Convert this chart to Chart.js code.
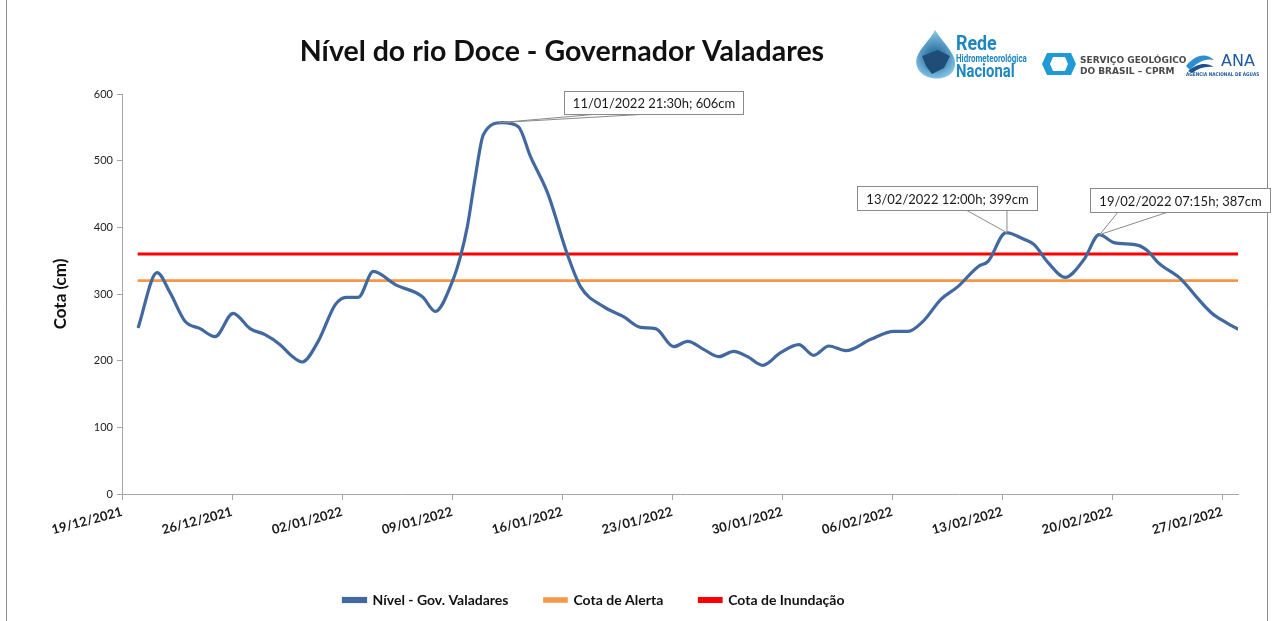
<!DOCTYPE html>
<html>
<head>
<meta charset="utf-8">
<script src="https://cdn.jsdelivr.net/npm/chart.js@4.4.1/dist/chart.umd.min.js"></script>
<style>
html,body{margin:0;padding:0;background:#fff;}
#wrap{position:relative;width:1273px;height:621px;}
canvas{display:block;}
</style>
</head>
<body>
<div id="wrap"><canvas id="c" width="1273" height="621"></canvas></div>
<script>
// ---- data ----
const tickDays = [0, 7, 14, 21, 28, 35, 42, 49, 56, 63, 70]; // days since 19/12/2021
const tickLabels = ["19/12/2021","26/12/2021","02/01/2022","09/01/2022","16/01/2022","23/01/2022","30/01/2022","06/02/2022","13/02/2022","20/02/2022","27/02/2022"];
const yTicks = [0, 100, 200, 300, 400, 500, 600];

const levelDays = [1.02,2.23,3.06,4.01,4.97,5.92,7.07,8.15,9.1,10.06,10.8,11.46,12.48,13.57,14.27,15.03,15.99,17.39,19.11,19.94,21.02,21.53,21.97,22.48,22.99,24.2,25.22,25.99,27.07,28.34,29.17,30.64,31.91,32.99,33.95,35.1,35.99,37.0,37.96,38.92,39.8,40.76,41.9,43.06,44.01,44.97,46.05,47.64,49.11,50.0,50.96,52.1,53.18,54.46,55.1,56.24,57.39,58.03,58.92,60.0,61.21,62.17,63.12,64.65,65.29,65.92,67.39,68.34,69.3,70.25,71.02];
const levels = [249,332,302,259,248,236,271,248,239,224,207,198,229,284,295,295,334,314,296,274,319,356,401,476,539,557,551,506,452,359,311,281,266,250,248,221,229,217,206,214,206,193,212,224,208,222,215,232,244,244,259,292,311,341,349,392,382,374,347,325,352,389,377,373,364,347,322,296,272,257,247];

const thresholdDays = [1, 71];
const alertLevel = 320;
const floodLevel = 360;

const seriesNames = ["Nível - Gov. Valadares", "Cota de Alerta", "Cota de Inundação"];
const seriesColors = ["#41699f", "#f79646", "#ff0000"];

const annotTexts = ["11/01/2022 21:30h; 606cm", "13/02/2022 12:00h; 399cm", "19/02/2022 07:15h; 387cm"];
const annotDays = [24.0, 56.3, 62.2];
const annotLevels = [557, 392, 389];

const titleText = "Nível do rio Doce - Governador Valadares";
const yTitle = "Cota (cm)";

// ---- layout (pixels) ----
const annotBoxes = [
  {dx: 65, dy: -32, w: 179, h: 23, b1: 94, b2: 141},
  {dx: -150, dy: -47, w: 180, h: 24, b1: -40, b2: 0},
  {dx: -10, dy: -47, w: 180, h: 24, b1: 18, b2: 67}
];
const legendShift = -25;

const FONT = "Lato, 'Open Sans', sans-serif";

const legendShiftPlugin = {
  id: 'legendShift',
  afterLayout(chart) {
    if (chart.legend) {
      chart.legend.left += legendShift;
      chart.legend.right += legendShift;
    }
  }
};

const decorPlugin = {
  id: 'decor',
  afterDraw(chart) {
    const ctx = chart.ctx;
    const xs = chart.scales.x, ys = chart.scales.y;
    ctx.save();
    // frame sides
    ctx.strokeStyle = '#8c8c8c';
    ctx.lineWidth = 1;
    ctx.beginPath();
    ctx.moveTo(6.5, 0); ctx.lineTo(6.5, 621);
    ctx.moveTo(1267.5, 0); ctx.lineTo(1267.5, 621);
    ctx.stroke();

    // title
    ctx.fillStyle = '#111';
    ctx.font = "bold 28.5px " + FONT;
    ctx.textAlign = 'center';
    ctx.textBaseline = 'middle';
    ctx.fillText(titleText, 562, 52);

    // annotations
    annotTexts.forEach((t, i) => {
      const px = xs.getPixelForValue(annotDays[i]);
      const py = ys.getPixelForValue(annotLevels[i]);
      const b = annotBoxes[i];
      const bx = Math.round(px + b.dx) + 0.5, by = Math.round(py + b.dy) + 0.5;
      ctx.strokeStyle = '#8a8a8a';
      ctx.fillStyle = '#fff';
      ctx.lineWidth = 1;
      ctx.beginPath();
      ctx.moveTo(px + b.b1, by + b.h);
      ctx.lineTo(px, py);
      ctx.lineTo(px + b.b2, by + b.h);
      ctx.closePath();
      ctx.fill(); ctx.stroke();
      ctx.fillRect(bx, by, b.w, b.h);
      ctx.strokeRect(bx, by, b.w, b.h);
      ctx.fillStyle = '#1a1a1a';
      ctx.font = "13px " + FONT;
      ctx.textAlign = 'center';
      ctx.textBaseline = 'middle';
      ctx.fillText(t, bx + b.w / 2, by + b.h / 2 + 1);
    });

    // logos (approximations)
    const g = ctx.createRadialGradient(935, 58, 2, 935, 55, 26);
    g.addColorStop(0, '#1b5f92'); g.addColorStop(1, '#8fd0f0');
    ctx.fillStyle = g;
    ctx.beginPath();
    ctx.moveTo(935, 30);
    ctx.bezierCurveTo(945, 45, 957, 55, 955, 66);
    ctx.bezierCurveTo(953, 77, 940, 80, 932, 78);
    ctx.bezierCurveTo(920, 76, 914, 66, 917, 57);
    ctx.bezierCurveTo(920, 48, 930, 40, 935, 30);
    ctx.fill();
    ctx.fillStyle = '#1f4d78';
    ctx.beginPath();
    ctx.moveTo(922, 56); ctx.lineTo(938, 50); ctx.lineTo(950, 56); ctx.lineTo(944, 68); ctx.lineTo(932, 74); ctx.lineTo(926, 66);
    ctx.closePath(); ctx.fill();
    ctx.fillStyle = '#1e87c3';
    ctx.textAlign = 'left';
    ctx.textBaseline = 'alphabetic';
    ctx.font = "bold 21px 'Roboto', sans-serif";
    ctx.save(); ctx.translate(956, 50); ctx.scale(0.85, 1); ctx.fillText("Rede", 0, 0); ctx.restore();
    ctx.font = "bold 11px 'Roboto', sans-serif";
    ctx.save(); ctx.translate(956, 62); ctx.scale(0.72, 1); ctx.fillText("Hidrometeorológica", 0, 0); ctx.restore();
    ctx.font = "bold 19px 'Roboto', sans-serif";
    ctx.save(); ctx.translate(956, 77); ctx.scale(0.78, 1); ctx.fillText("Nacional", 0, 0); ctx.restore();

    // CPRM mark
    ctx.fillStyle = '#1e9bd7';
    ctx.beginPath();
    ctx.moveTo(1047, 53); ctx.lineTo(1071, 53); ctx.lineTo(1076, 64); ctx.lineTo(1071, 75); ctx.lineTo(1047, 75); ctx.lineTo(1042, 64);
    ctx.closePath(); ctx.fill();
    ctx.fillStyle = '#fff';
    ctx.beginPath();
    ctx.moveTo(1053, 57); ctx.lineTo(1065, 57); ctx.lineTo(1068, 64); ctx.lineTo(1065, 71); ctx.lineTo(1053, 71); ctx.lineTo(1050, 64);
    ctx.closePath(); ctx.fill();
    ctx.fillStyle = '#4a4a4a';
    ctx.font = "bold 9px 'DejaVu Sans', sans-serif";
    ctx.fillText("SERVIÇO GEOLÓGICO", 1080, 63);
    ctx.fillText("DO BRASIL – CPRM", 1080, 74);

    // ANA
    ctx.fillStyle = '#2a8fd0';
    ctx.beginPath();
    ctx.moveTo(1186, 66);
    ctx.bezierCurveTo(1195, 55, 1205, 52, 1214, 60);
    ctx.bezierCurveTo(1205, 58, 1198, 62, 1190, 70);
    ctx.closePath(); ctx.fill();
    ctx.fillStyle = '#1d4f91';
    ctx.beginPath();
    ctx.moveTo(1188, 71);
    ctx.bezierCurveTo(1198, 63, 1206, 62, 1214, 67);
    ctx.bezierCurveTo(1205, 66, 1199, 68, 1192, 73);
    ctx.closePath(); ctx.fill();
    ctx.fillStyle = '#1f5aa6';
    ctx.font = "16px 'DejaVu Sans', sans-serif";
    ctx.fillText("ANA", 1221, 66);
    ctx.font = "bold 5px 'DejaVu Sans', sans-serif";
    ctx.save(); ctx.translate(1186, 76); ctx.scale(0.85, 1); ctx.fillText("AGÊNCIA NACIONAL DE ÁGUAS", 0, 0); ctx.restore();
    ctx.restore();
  }
};

const ctxEl = document.getElementById('c');
new Chart(ctxEl, {
  type: 'line',
  data: {
    datasets: [
      {
        label: seriesNames[0],
        data: levelDays.map((d, i) => ({x: d, y: levels[i]})),
        borderColor: seriesColors[0], backgroundColor: seriesColors[0],
        borderWidth: 3.2, pointRadius: 0, cubicInterpolationMode: 'monotone'
      },
      {
        label: seriesNames[1],
        data: thresholdDays.map(d => ({x: d, y: alertLevel})),
        borderColor: seriesColors[1], backgroundColor: seriesColors[1],
        borderWidth: 2.6, pointRadius: 0
      },
      {
        label: seriesNames[2],
        data: thresholdDays.map(d => ({x: d, y: floodLevel})),
        borderColor: seriesColors[2], backgroundColor: seriesColors[2],
        borderWidth: 2.8, pointRadius: 0
      }
    ]
  },
  options: {
    responsive: false,
    devicePixelRatio: 1,
    animation: false,
    layout: {padding: {left: 0, right: 35, top: 94, bottom: 4}},
    plugins: {
      legend: {
        position: 'bottom',
        labels: {
          boxWidth: 22, boxHeight: 3, padding: 36,
          color: '#111',
          font: {family: FONT, size: 14, weight: 'bold'}
        }
      },
      tooltip: {enabled: false}
    },
    scales: {
      x: {
        type: 'linear', min: 0, max: 71,
        afterBuildTicks: s => { s.ticks = tickDays.map(v => ({value: v})); },
        afterFit: s => { s.height = 63; },
        grid: {display: true, drawOnChartArea: false, drawTicks: true, tickLength: 6, color: '#a6a6a6'},
        border: {color: '#a6a6a6', width: 1},
        ticks: {
          minRotation: 15, maxRotation: 15, autoSkip: false, padding: 4,
          color: '#1a1a1a', font: {family: FONT, size: 13, weight: 'bold'},
          callback: (v) => { const i = tickDays.indexOf(v); return i >= 0 ? tickLabels[i] : ''; }
        }
      },
      y: {
        type: 'linear', min: 0, max: 600,
        afterBuildTicks: s => { s.ticks = yTicks.map(v => ({value: v})); },
        afterFit: s => { s.width = 122; },
        grid: {display: true, drawOnChartArea: false, drawTicks: true, tickLength: 5, color: '#a6a6a6'},
        border: {color: '#a6a6a6', width: 1},
        ticks: {color: '#222', font: {family: FONT, size: 11}, padding: 4},
        title: {display: true, text: yTitle, color: '#111', font: {family: FONT, size: 17, weight: 'bold'}, padding: {top: 50, bottom: 0}}
      }
    }
  },
  plugins: [legendShiftPlugin, decorPlugin]
});
</script>
</body>
</html>
